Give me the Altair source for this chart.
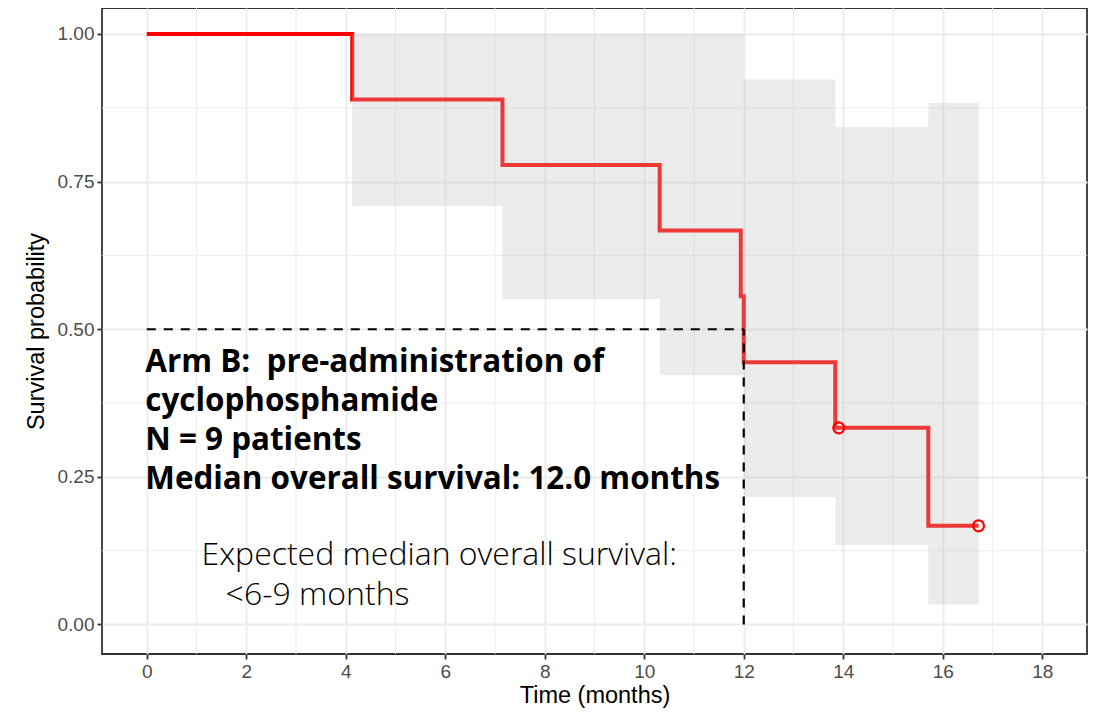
import altair as alt
import pandas as pd

# Kaplan-Meier estimate (Arm B)
km_time = [0, 4.13, 7.15, 10.31, 11.94, 12.0, 13.84, 15.71, 16.72]
km_surv = [1.0, 0.889, 0.778, 0.667, 0.556, 0.444, 0.333, 0.167, 0.167]

# Confidence band
ci_time = [4.13, 7.15, 10.31, 11.94, 12.0, 13.84, 15.71, 16.72]
ci_upper = [1.0, 1.0, 1.0, 1.0, 0.923, 0.842, 0.883, 0.883]
ci_lower = [0.709, 0.551, 0.422, 0.422, 0.216, 0.135, 0.034, 0.034]

# Censored observations
cens_time = [13.91, 16.72]
cens_surv = [0.333, 0.167]

# Median survival
median_time = 12.0
median_surv = 0.5

# Axis ticks / grid
x_ticks = [0, 2, 4, 6, 8, 10, 12, 14, 16, 18]
x_minor = [1, 3, 5, 7, 9, 11, 13, 15, 17]
y_ticks = [0.0, 0.25, 0.5, 0.75, 1.0]
y_minor = [0.125, 0.375, 0.625, 0.875]

# Annotations
bold_text = "Arm B:\u00a0 pre-administration of\ncyclophosphamide\nN = 9 patients\nMedian overall survival: 12.0 months"
bold_pos = (-0.03, 0.4273)
reg_lines = ["Expected median overall survival:", "<6-9 months"]
reg_x = [1.10, 1.585]
reg_y = [0.1007, 0.0335]

km_df = pd.DataFrame({"t": km_time, "s": km_surv})
ci_df = pd.DataFrame({"t": ci_time, "hi": ci_upper, "lo": ci_lower})
cens_df = pd.DataFrame({"t": cens_time, "s": cens_surv})
med_df = pd.DataFrame({
    "x": [0, median_time], "x2": [median_time, median_time],
    "y": [median_surv, 0], "y2": [median_surv, median_surv],
})
xminor_df = pd.DataFrame({"t": x_minor})
yminor_df = pd.DataFrame({"s": y_minor})
bold_df = pd.DataFrame({"t": [bold_pos[0]], "s": [bold_pos[1]], "text": [bold_text]})
reg_df = pd.DataFrame({"t": reg_x, "s": reg_y, "text": reg_lines})

xs = alt.Scale(domain=[-0.9, 18.9], nice=False, zero=False)
ys = alt.Scale(domain=[-0.05, 1.044], nice=False, zero=False)
x_axis = alt.Axis(values=x_ticks, format="d")
y_axis = alt.Axis(values=y_ticks, format=".2f")


def X(field):
    return alt.X(field, type="quantitative", scale=xs, axis=x_axis, title="Time (months)")


def Y(field):
    return alt.Y(field, type="quantitative", scale=ys, axis=y_axis, title="Survival probability")


grid_col = "#EBEBEB"

minor_x = alt.Chart(xminor_df).mark_rule(color=grid_col, strokeWidth=0.9).encode(x=X("t"))
minor_y = alt.Chart(yminor_df).mark_rule(color=grid_col, strokeWidth=0.9).encode(y=Y("s"))

line = alt.Chart(km_df).mark_line(color="#FF0000", strokeWidth=4, interpolate="step-after").encode(
    x=X("t"), y=Y("s"))

ribbon = alt.Chart(ci_df).mark_area(color="#BEBEBE", opacity=0.3, interpolate="step-after").encode(
    x=X("t"), y=Y("hi"), y2="lo:Q")

cens = alt.Chart(cens_df).mark_point(shape="circle", filled=False, color="#FF0000",
                                     size=120, strokeWidth=2.2, opacity=1).encode(
    x=X("t"), y=Y("s"))

med = alt.Chart(med_df).mark_rule(color="black", strokeWidth=2.2, strokeDash=[9, 8]).encode(
    x=X("x"), x2="x2:Q", y=Y("y"), y2="y2:Q")

bold = alt.Chart(bold_df).mark_text(align="left", baseline="alphabetic", font="Open Sans",
                                     fontWeight="bold", fontSize=31.4, lineBreak="\n",
                                     lineHeight=39, color="black").encode(
    x=X("t"), y=Y("s"), text="text:N")

reg = alt.Chart(reg_df).mark_text(align="left", baseline="alphabetic", font="Open Sans",
                                   fontWeight=300, fontSize=32, color="black").encode(
    x=X("t"), y=Y("s"), text="text:N")

chart = alt.layer(minor_x, minor_y, line, ribbon, cens, med, bold, reg).properties(
    width=985, height=646,
    autosize=alt.AutoSizeParams(type="none"),
    padding={"left": 94, "top": 0, "right": 4, "bottom": 57},
    background="white",
).configure_view(
    stroke="#333333", strokeWidth=1.8
).configure_axis(
    grid=True, gridColor=grid_col, gridWidth=1.8,
    domain=False,
    tickColor="#333333", tickWidth=1.8, tickSize=5,
    labelFont="Liberation Sans", labelFontSize=19, labelColor="#4D4D4D", labelPadding=3,
    titleFont="Liberation Sans", titleFontSize=23.5, titleFontWeight="normal", titleColor="black",
).configure_axisX(titlePadding=2).configure_axisY(titlePadding=9)

chart.save("out.html", embed_options={"renderer": "svg", "actions": False})
